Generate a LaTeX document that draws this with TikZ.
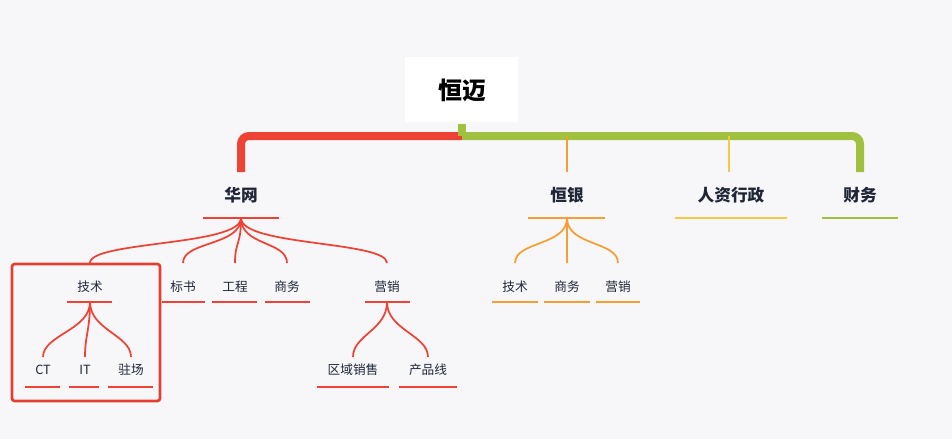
\documentclass[tikz,border=0pt]{standalone}
\usepackage{fontspec}
\setmainfont{Noto Sans CJK SC}
\usetikzlibrary{positioning}
\definecolor{bg}{RGB}{247,247,249}
\definecolor{red}{RGB}{238,66,52}
\definecolor{green}{RGB}{160,192,64}
\definecolor{orange}{RGB}{245,158,52}
\definecolor{yellow}{RGB}{244,200,66}
\definecolor{ink}{RGB}{30,38,56}
\newcommand\branch[2]{\draw[br] (#1) .. controls +(0,28) and +(0,-22) .. (#2);}
\begin{document}
\begin{tikzpicture}[x=0.75pt, y=-0.75pt, >=latex,
  t1/.style={font=\fontsize{12.5}{14}\selectfont\bfseries, text=ink, inner sep=0pt},
  t2/.style={font=\fontsize{9.5}{11}\selectfont, text=ink, inner sep=0pt},
  ul/.style={line width=1.5pt},
  br/.style={line width=1.3pt},
  trunk/.style={line width=6pt, rounded corners=6pt}]
\fill[bg] (0,0) rectangle (952,439);
\useasboundingbox (0,0) rectangle (952,439);

% root
\fill[white] (405,57) rectangle (518,122);
\node[font=\fontsize{18}{20}\selectfont\bfseries, text=black] (hm) at (462,90) {恒迈};

% trunk
\draw[trunk, red] (241,172) -- (241,136) -- (462,136);
\draw[trunk, green] (462,136) -- (860,136) -- (860,172);
\fill[green] (458,124) rectangle (466,136);
\draw[line width=2.2pt, orange] (567,136) -- (567,172);
\draw[line width=2.2pt, yellow] (729,136) -- (729,172);

% level 1
\node[t1] (hw) at (241,195) {华网};
\node[t1] (hy) at (567,195) {恒银};
\node[t1] (rz) at (731,195) {人资行政};
\node[t1] (cw) at (860,195) {财务};
\draw[ul, red] (203,218) -- (279,218);
\draw[ul, orange] (528,218) -- (605,218);
\draw[ul, yellow] (675,218) -- (787,218);
\draw[ul, green] (822,218) -- (898,218);
\coordinate (hwb) at (241,218);
\coordinate (hyb) at (567,218);

% huawang children
\begin{scope}[red]
\node[t2] (js) at (90,287) {技术};
\node[t2] (bs) at (183,287) {标书};
\node[t2] (gc) at (235,287) {工程};
\node[t2] (sw) at (287,287) {商务};
\node[t2] (yx) at (387,287) {营销};
\foreach \n/\x in {js/90, bs/183, gc/235, sw/287, yx/387}
  \coordinate (\n t) at (\x,263);
\foreach \n in {js, bs, gc, sw, yx}
  \branch{hwb}{\n t}
\draw[ul] (67,302) -- (112,302);
\draw[ul] (162,302) -- (205,302);
\draw[ul] (212,302) -- (257,302);
\draw[ul] (265,302) -- (310,302);
\draw[ul] (365,302) -- (410,302);
\coordinate (jsb) at (90,302);
\coordinate (yxb) at (387,302);

% jishu
\node[t2] (ct) at (43,370) {CT};
\node[t2] (it) at (85,370) {IT};
\node[t2] (zc) at (131,370) {驻场};
\foreach \n/\x in {ct/43, it/85, zc/131}
  \coordinate (\n t) at (\x,357);
\foreach \n in {ct, it, zc}
  \branch{jsb}{\n t}
\draw[ul] (25,387) -- (60,387);
\draw[ul] (69,387) -- (99,387);
\draw[ul] (108,387) -- (153,387);

% yingxiao
\node[t2] (qy) at (353,370) {区域销售};
\node[t2] (cp) at (428,370) {产品线};
\coordinate (qyt) at (353,357);
\coordinate (cpt) at (428,357);
\branch{yxb}{qyt}
\branch{yxb}{cpt}
\draw[ul] (317,387) -- (389,387);
\draw[ul] (399,387) -- (457,387);
\end{scope}

% highlight
\draw[line width=2pt, red!95!black, rounded corners=2pt] (12,264) rectangle (160,401);

% hengyin children
\begin{scope}[orange]
\node[t2] (js2) at (515,287) {技术};
\node[t2] (sw2) at (567,287) {商务};
\node[t2] (yx2) at (618,287) {营销};
\foreach \n/\x in {js2/515, sw2/567, yx2/618}
  \coordinate (\n t) at (\x,263);
\foreach \n in {js2, sw2, yx2}
  \branch{hyb}{\n t}
\draw[ul] (492,302) -- (538,302);
\draw[ul] (544,302) -- (590,302);
\draw[ul] (596,302) -- (640,302);
\end{scope}
\end{tikzpicture}
\end{document}
